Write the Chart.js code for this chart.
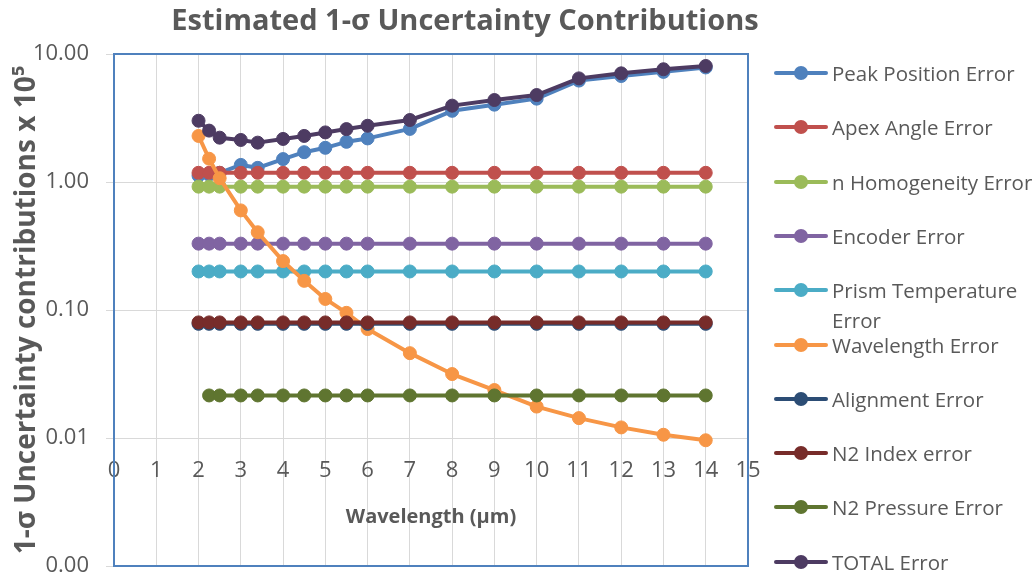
<!DOCTYPE html>
<html>
<head>
<meta charset="utf-8">
<title>Estimated 1-σ Uncertainty Contributions</title>
<script src="https://cdn.jsdelivr.net/npm/chart.js@4/dist/chart.umd.min.js"></script>
<style>
  body { margin: 0; background: #fff; }
  #wrap { position: relative; width: 1036px; height: 579px; overflow: hidden; }
  #chartBox { position: absolute; left: 0; top: 0; width: 930px; height: 579px; }
  #legend { position: absolute; left: 774px; top: 0; width: 262px; height: 579px;
            font-family: 'Open Sans', sans-serif; font-size: 20.5px; color: #595959; }
  .item { position: absolute; left: 0; height: 30px; }
  .item .ln { position: absolute; left: 0; top: 13px; width: 54px; height: 4px; border-radius: 2px; }
  .item .dot { position: absolute; left: 20px; top: 8px; width: 14px; height: 14px; border-radius: 50%; }
  .item .txt { position: absolute; left: 58px; top: 0; width: 212px; line-height: 30px; }
</style>
</head>
<body>
<div id="wrap">
  <div id="chartBox"><canvas id="myChart"></canvas></div>
  <div id="legend"></div>
</div>
<script>
// wavelength (um) of each computed point
const wavelengths = [2, 2.25, 2.5, 3, 3.4, 4, 4.5, 5, 5.5, 6, 7, 8, 9, 10, 11, 12, 13, 14];

// 1-sigma contributions x 10^5
const peakPosition = [1.12, 1.14, 1.18, 1.36, 1.29, 1.51, 1.71, 1.85, 2.06, 2.19, 2.60, 3.60, 4.02, 4.48, 6.20, 6.73, 7.25, 7.85];
const apexAngle = [1.18, 1.18, 1.18, 1.18, 1.18, 1.18, 1.18, 1.18, 1.18, 1.18, 1.18, 1.18, 1.18, 1.18, 1.18, 1.18, 1.18, 1.18];
const nHomogeneity = [0.92, 0.92, 0.92, 0.92, 0.92, 0.92, 0.92, 0.92, 0.92, 0.92, 0.92, 0.92, 0.92, 0.92, 0.92, 0.92, 0.92, 0.92];
const encoder = [0.33, 0.33, 0.33, 0.33, 0.33, 0.33, 0.33, 0.33, 0.33, 0.33, 0.33, 0.33, 0.33, 0.33, 0.33, 0.33, 0.33, 0.33];
const prismTemperature = [0.20, 0.20, 0.20, 0.20, 0.20, 0.20, 0.20, 0.20, 0.20, 0.20, 0.20, 0.20, 0.20, 0.20, 0.20, 0.20, 0.20, 0.20];
const wavelengthErr = [2.29, 1.52, 1.07, 0.60, 0.405, 0.241, 0.169, 0.122, 0.095, 0.071, 0.046, 0.0316, 0.0237, 0.0176, 0.0143, 0.0121, 0.0106, 0.0096];
const alignment = [0.078, 0.078, 0.078, 0.078, 0.078, 0.078, 0.078, 0.078, 0.078, 0.078, 0.078, 0.078, 0.078, 0.078, 0.078, 0.078, 0.078, 0.078];
const n2Index = [0.080, 0.080, 0.080, 0.080, 0.080, 0.080, 0.080, 0.080, 0.080, 0.080, 0.080, 0.080, 0.080, 0.080, 0.080, 0.080, 0.080, 0.080];
const n2Pressure = [null, 0.0215, 0.0215, 0.0215, 0.0215, 0.0215, 0.0215, 0.0215, 0.0215, 0.0215, 0.0215, 0.0215, 0.0215, 0.0215, 0.0215, 0.0215, 0.0215, 0.0215];
const totalErr = [3.01, 2.52, 2.22, 2.13, 2.03, 2.17, 2.29, 2.44, 2.59, 2.75, 3.05, 3.95, 4.37, 4.78, 6.45, 7.06, 7.60, 8.06];

const seriesNames = ['Peak Position Error', 'Apex Angle Error', 'n Homogeneity Error', 'Encoder Error',
  'Prism Temperature Error', 'Wavelength Error', 'Alignment Error', 'N2 Index error', 'N2 Pressure Error', 'TOTAL Error'];
const seriesValues = [peakPosition, apexAngle, nHomogeneity, encoder, prismTemperature,
  wavelengthErr, alignment, n2Index, n2Pressure, totalErr];
const seriesColors = ['#4F81BD', '#C0504D', '#9BBB59', '#8064A2', '#4BACC6',
  '#F79646', '#2C4D75', '#772C2A', '#5F7530', '#4D3B62'];

const xTicks = [0, 1, 2, 3, 4, 5, 6, 7, 8, 9, 10, 11, 12, 13, 14, 15];
const yTicks = [0.001, 0.01, 0.1, 1, 10];

const textColor = '#595959';
const gridColor = '#D9D9D9';
const family = "'Open Sans', sans-serif";

function toPoints(values) {
    const pts = [];
    for (let i = 0; i < wavelengths.length; i++) {
        if (values[i] !== null) pts.push({ x: wavelengths[i], y: values[i] });
    }
    return pts;
}

const datasets = seriesNames.map((name, i) => ({
    label: name,
    data: toPoints(seriesValues[i]),
    borderColor: seriesColors[i],
    backgroundColor: seriesColors[i],
    pointBackgroundColor: seriesColors[i],
    pointBorderColor: seriesColors[i],
    borderWidth: 4,
    pointRadius: 6.5,
    pointBorderWidth: 1,
    tension: 0,
    borderJoinStyle: 'round',
    borderCapStyle: 'round',
    // later series sit on top, as in the original
    order: seriesNames.length - i
}));

// blue frame round the plot area
const plotBorder = {
    id: 'plotBorder',
    beforeDatasetsDraw(chart) {
        const { ctx, chartArea: a } = chart;
        ctx.save();
        ctx.strokeStyle = '#4F81BD';
        ctx.lineWidth = 2;
        ctx.strokeRect(a.left, a.top, a.right - a.left, a.bottom - a.top);
        ctx.restore();
    }
};

// legend built from the datasets, so the long label can wrap like the original
const htmlLegend = {
    id: 'htmlLegend',
    afterUpdate(chart) {
        const box = document.getElementById('legend');
        let html = '';
        chart.data.datasets.forEach((ds, i) => {
            const top = 73 + i * 54.3 - 15;
            html += `<div class="item" style="top:${top}px">
                <div class="ln" style="background:${ds.borderColor}"></div>
                <div class="dot" style="background:${ds.borderColor}"></div>
                <div class="txt">${ds.label}</div>
            </div>`;
        });
        box.innerHTML = html;
    }
};

const ctx = document.getElementById('myChart').getContext('2d');
new Chart(ctx, {
    type: 'line',
    data: { datasets: datasets },
    options: {
        responsive: true,
        maintainAspectRatio: false,
        animation: false,
        layout: { autoPadding: false, padding: { left: 0, right: 0, top: 0, bottom: 13 } },
        plugins: {
            legend: { display: false },
            tooltip: { enabled: false },
            title: {
                display: true,
                text: 'Estimated 1-σ Uncertainty Contributions',
                color: textColor,
                font: { family: family, size: 29, weight: 'bold' },
                padding: { top: 4, bottom: 15.2 }
            }
        },
        scales: {
            x: {
                type: 'linear',
                min: 0,
                max: 15,
                position: { y: 0.01 },
                afterBuildTicks: s => { s.ticks = xTicks.map(v => ({ value: v })); },
                ticks: { color: textColor, font: { family: family, size: 22 }, padding: 15, maxRotation: 0, autoSkip: false },
                grid: { color: gridColor, tickLength: 5 },
                border: { color: gridColor },
                title: {
                    display: true,
                    text: 'Wavelength (µm)',
                    color: textColor,
                    font: { family: family, size: 20, weight: 'bold' },
                    padding: { top: 6, bottom: 0 }
                }
            },
            y: {
                type: 'logarithmic',
                min: 0.001,
                max: 10,
                afterBuildTicks: s => { s.ticks = yTicks.map(v => ({ value: v })); },
                afterFit: s => { s.width = 114; s.paddingTop = 0; s.paddingBottom = 0; },
                ticks: { color: textColor, font: { family: family, size: 22 }, padding: 17,
                         callback: v => Number(v).toFixed(2) },
                grid: { color: gridColor, tickLength: 8 },
                border: { display: false },
                title: {
                    display: true,
                    text: '1-σ Uncertainty contributions x 10⁵',
                    color: textColor,
                    font: { family: family, size: 28, weight: 'bold' },
                    padding: { top: 10.5, bottom: 0 }
                }
            },
            // empty right-hand strip that keeps room for the legend
            legendSpace: {
                position: 'right',
                display: true,
                grid: { display: false },
                ticks: { display: false },
                border: { display: false },
                afterFit: s => { s.width = 182; s.paddingTop = 0; s.paddingBottom = 0; }
            }
        }
    },
    plugins: [plotBorder, htmlLegend]
});
</script>
</body>
</html>
